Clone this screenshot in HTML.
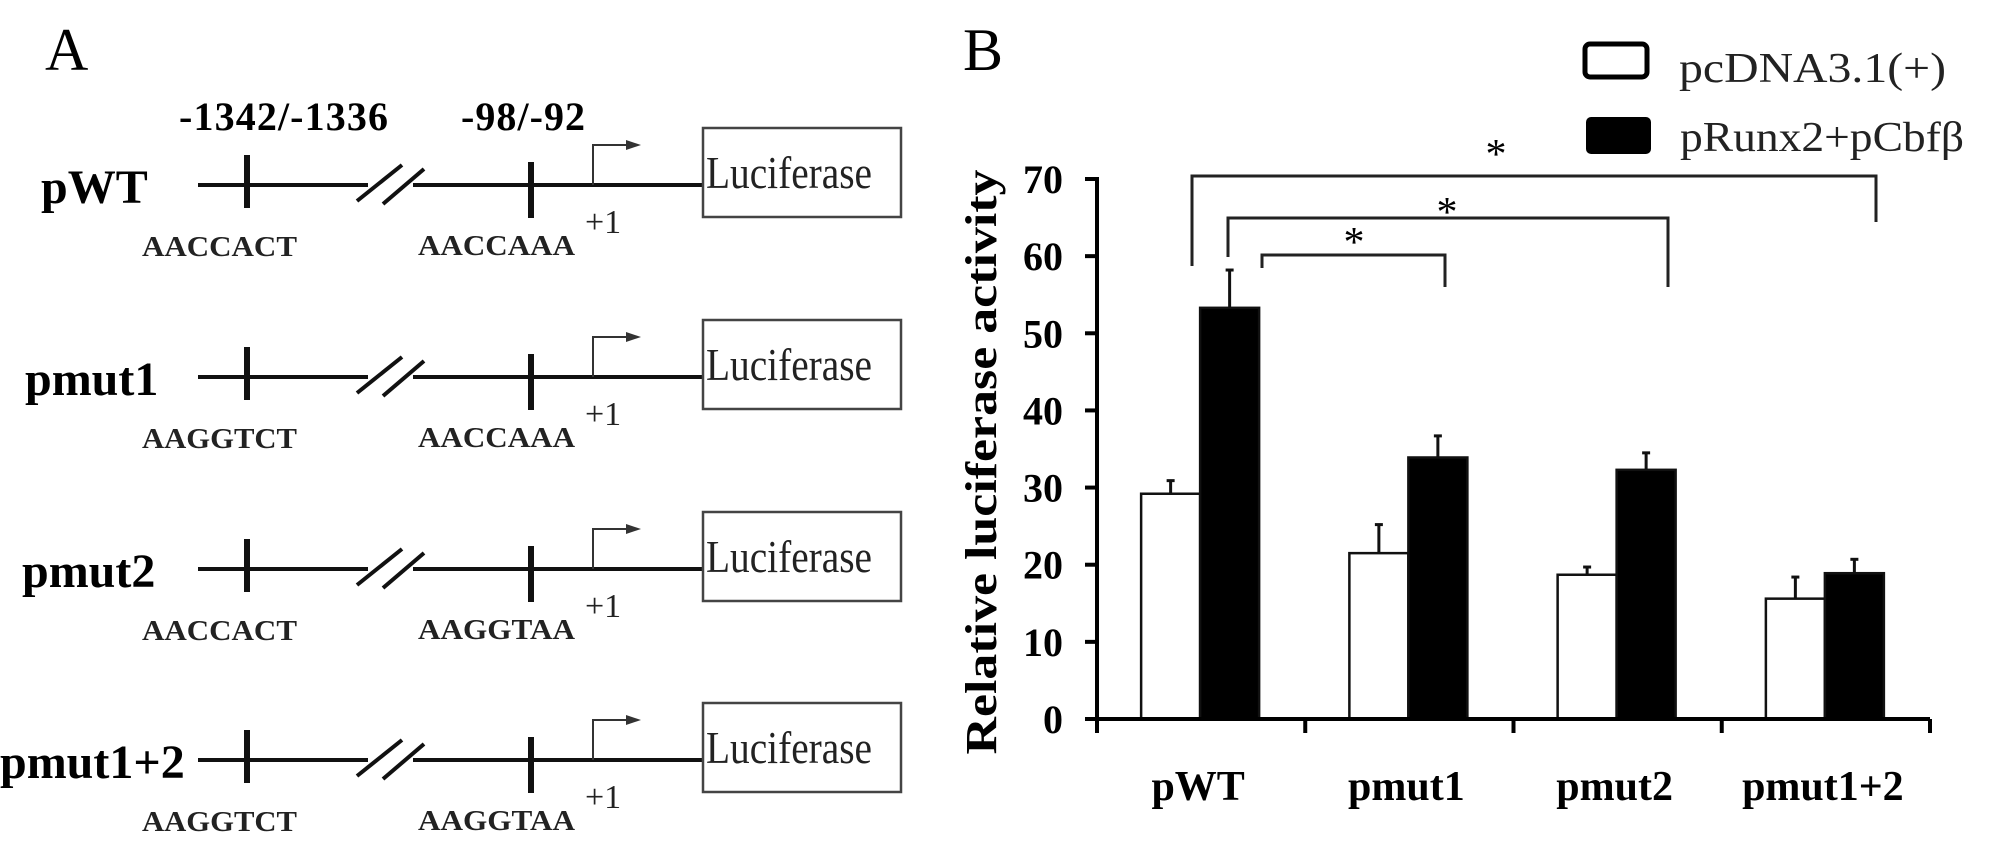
<!DOCTYPE html>
<html><head><meta charset="utf-8"><style>
html,body{margin:0;padding:0;background:#fff}
svg{display:block;font-family:"Liberation Serif",serif}
</style></head><body>
<svg id="fig" width="2008" height="861" viewBox="0 0 2008 861" xmlns="http://www.w3.org/2000/svg">
<rect x="0" y="0" width="2008" height="861" fill="#fff"/>
<text x="45" y="70" font-size="60">A</text>
<text x="963" y="70" font-size="60">B</text>
<text x="179" y="130" font-size="40" font-weight="bold" textLength="209">-1342/-1336</text>
<text x="461" y="130" font-size="40" font-weight="bold" textLength="124">-98/-92</text>
<g id="constructs"></g>
<g id="chart"></g>
</svg>
<script>
const NS="http://www.w3.org/2000/svg";
function mk(parent,tag,attrs,text){const e=document.createElementNS(NS,tag);for(const k in attrs)e.setAttribute(k,attrs[k]);if(text!==undefined)e.textContent=text;parent.appendChild(e);return e;}

// ---- Panel A ----
const constructNames=["pWT","pmut1","pmut2","pmut1+2"];
const site1Seqs=["AACCACT","AAGGTCT","AACCACT","AAGGTCT"];
const site2Seqs=["AACCAAA","AACCAAA","AAGGTAA","AAGGTAA"];
const labelX=[41,25,22,0];
const rowY=[185,377,569,760];
const cg=document.getElementById('constructs');
constructNames.forEach((nm,i)=>{
  const y=rowY[i];
  const g=mk(cg,'g',{});
  
  
  const t=mk(g,'text',{x:labelX[i],y:y+18,'font-size':48,'font-weight':'bold'},nm);
  
  
  mk(g,'line',{x1:198,y1:y,x2:368,y2:y,stroke:'#111','stroke-width':4});
  mk(g,'line',{x1:413,y1:y,x2:704,y2:y,stroke:'#111','stroke-width':4});
  mk(g,'line',{x1:357,y1:y+16,x2:402,y2:y-20,stroke:'#111','stroke-width':4});
  mk(g,'line',{x1:383,y1:y+19,x2:424,y2:y-16,stroke:'#111','stroke-width':4});
  mk(g,'line',{x1:247,y1:y-30,x2:247,y2:y+23,stroke:'#111','stroke-width':6});
  mk(g,'line',{x1:531,y1:y-23,x2:531,y2:y+33,stroke:'#111','stroke-width':6});
  mk(g,'polyline',{points:`593,${y} 593,${y-40} 628,${y-40}`,fill:'none',stroke:'#333','stroke-width':2});
  mk(g,'polygon',{points:`626,${y-45} 641,${y-40} 626,${y-35}`,fill:'#333'});
  const b=mk(g,'rect',{x:703,y:y-57,width:198,height:89,fill:'#fff',stroke:'#444','stroke-width':2.5});
  
  
  mk(g,'text',{x:706,y:y+3,'font-size':46,textLength:166,lengthAdjust:'spacingAndGlyphs',fill:'#222'},'Luciferase');
  mk(g,'text',{x:585,y:y+48,'font-size':34,fill:'#222'},'+1');
  mk(g,'text',{x:142,y:y+71,'font-size':29,'font-weight':'bold',textLength:155,lengthAdjust:'spacingAndGlyphs',fill:'#222'},site1Seqs[i]);
  mk(g,'text',{x:418,y:y+70,'font-size':29,'font-weight':'bold',textLength:157,lengthAdjust:'spacingAndGlyphs',fill:'#222'},site2Seqs[i]);
});

// ---- Panel B chart ----
const categories=["pWT","pmut1","pmut2","pmut1+2"];
const controlValues=[29.2,21.5,18.7,15.6];
const controlErrors=[1.7,3.7,1.0,2.8];
const runxValues=[53.3,33.9,32.3,18.9];
const runxErrors=[4.9,2.8,2.2,1.8];
const yTicks=[0,10,20,30,40,50,60,70];

const ch=document.getElementById('chart');
const X0=1097,X1=1930,Y0=719,YMAX=70,YTOP=179;
const yS=v=>Y0-(v/YMAX)*(Y0-YTOP);
const band=(X1-X0)/categories.length;
const xC=i=>X0+band*(i+0.5);
const BW=59;

// bars
categories.forEach((c,i)=>{
  const cx=xC(i);
  [[controlValues,controlErrors,'#fff',-BW-1,'control'],[runxValues,runxErrors,'#000',-1,'runx2']].forEach(([vals,errs,fill,off,key])=>{
    const x=cx+off, top=yS(vals[i]), et=yS(vals[i]+errs[i]);
    mk(ch,'line',{x1:x+BW/2,y1:top,x2:x+BW/2,y2:et,stroke:'#111','stroke-width':3});
    mk(ch,'line',{x1:x+BW/2-4,y1:et,x2:x+BW/2+4,y2:et,stroke:'#111','stroke-width':3});
    const r=mk(ch,'rect',{x:x,y:top,width:BW,height:Y0-top,fill:fill,stroke:'#111','stroke-width':2.5});
    
    
  });
  const t=mk(ch,'text',{x:cx-3,y:800,'font-size':42,'font-weight':'bold','text-anchor':'middle'},c);
  
  
});
// axes
const ya=mk(ch,'line',{x1:X0,y1:YTOP-2,x2:X0,y2:Y0+14,stroke:'#000','stroke-width':4});


const xa=mk(ch,'line',{x1:X0-12,y1:Y0,x2:X1,y2:Y0,stroke:'#000','stroke-width':4});


for(let i=0;i<=categories.length;i++){const x=X0+band*i;mk(ch,'line',{x1:x,y1:Y0,x2:x,y2:Y0+14,stroke:'#000','stroke-width':4});}
yTicks.forEach(v=>{
  const y=yS(v);
  mk(ch,'line',{x1:X0-12,y1:y,x2:X0,y2:y,stroke:'#000','stroke-width':4});
  const t=mk(ch,'text',{x:1063,y:y+14,'font-size':40,'font-weight':'bold','text-anchor':'end'},String(v));
  
  
});
const yt=mk(ch,'text',{x:0,y:0,'font-size':44,'font-weight':'bold','text-anchor':'middle',transform:'translate(996,462) rotate(-90)',textLength:585,lengthAdjust:'spacingAndGlyphs'},'Relative luciferase activity');



// significance brackets
const brackets=[[1192,266,176,1876,222,1496,168],[1228,257,218,1668,287,1447,226],[1262,268,255,1445,287,1354,256]];
brackets.forEach(b=>{
  const [xl,yl,yh,xr,yr,sx,sy]=b;
  const p=mk(ch,'polyline',{points:`${xl},${yl} ${xl},${yh} ${xr},${yh} ${xr},${yr}`,fill:'none',stroke:'#222','stroke-width':3});
  
  
  const s=mk(ch,'text',{x:sx,y:sy,'font-size':42,'text-anchor':'middle'},'*');
  
  
});

// legend
const lg=mk(ch,'g',{});


mk(lg,'rect',{x:1585,y:44,width:62,height:33,rx:5,fill:'#fff',stroke:'#000','stroke-width':5});
mk(lg,'text',{x:1679,y:82,'font-size':42,textLength:267,lengthAdjust:'spacingAndGlyphs',fill:'#222'},'pcDNA3.1(+)');
mk(lg,'rect',{x:1586,y:117,width:65,height:37,rx:5,fill:'#000'});
mk(lg,'text',{x:1680,y:151,'font-size':42,textLength:284,lengthAdjust:'spacingAndGlyphs',fill:'#222'},'pRunx2+pCbfβ');
</script>
</body></html>
